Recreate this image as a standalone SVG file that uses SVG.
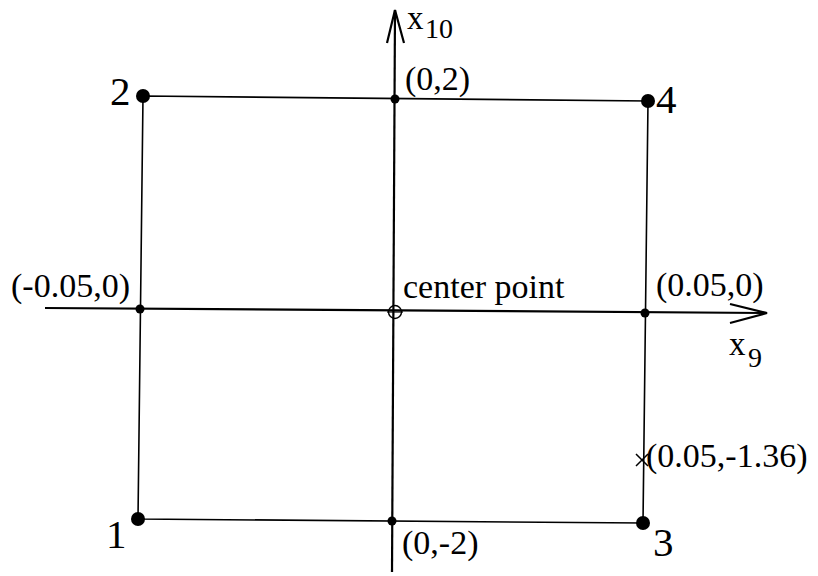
<svg xmlns="http://www.w3.org/2000/svg" width="818" height="576" viewBox="0 0 818 576">
<style>
text{font-family:"Liberation Serif","Times New Roman",serif;fill:#000}
.lbl{font-size:34px}
.num{font-size:41px}
.var{font-size:33px}
.sub{font-size:28px}
.ax{stroke:#000;stroke-width:2.2;fill:none}
.rect{stroke:#000;stroke-width:1.6;fill:none}
.big{fill:#000}
.small{fill:#000}
</style>
<rect width="818" height="576" fill="#fff"/>
<g id="connectors">
<path class="rect" d="M143,96 L648,101 L643,523 L138,519 Z"/>
<line class="ax" x1="395" y1="10" x2="392" y2="572"/>
<polyline class="ax" points="387,43 395,10 404,43"/>
<line class="ax" x1="45" y1="308" x2="767" y2="313"/>
<polyline class="ax" points="730,304 767,313 730,323"/>
</g>
<g id="axis-x10"><text class="var" x="407" y="29">x</text><text class="sub" x="425" y="38">10</text></g>
<g id="axis-x9"><text class="var" x="729" y="355">x</text><text class="sub" x="748" y="367">9</text></g>
<g id="p2"><circle class="big" cx="143" cy="96" r="7"/><text class="num" x="110" y="105">2</text></g>
<g id="p4"><circle class="big" cx="648" cy="101" r="7"/><text class="num" x="656" y="113">4</text></g>
<g id="p1"><circle class="big" cx="138" cy="519" r="7"/><text class="num" x="106" y="548">1</text></g>
<g id="p3"><circle class="big" cx="643" cy="523" r="7"/><text class="num" x="653" y="556">3</text></g>
<g id="top-mid"><circle class="small" cx="395" cy="99" r="4.5"/><text class="lbl" x="405" y="90">(0,2)</text></g>
<g id="bottom-mid"><circle class="small" cx="392" cy="521" r="4.5"/><text class="lbl" x="402" y="554">(0,-2)</text></g>
<g id="left-mid"><circle class="small" cx="140" cy="309" r="4.5"/><text class="lbl" x="11" y="297">(-0.05,0)</text></g>
<g id="right-mid"><circle class="small" cx="645" cy="313" r="4.5"/><text class="lbl" x="656" y="296">(0.05,0)</text></g>
<g id="center"><circle cx="395" cy="312" r="6.5" fill="none" stroke="#000" stroke-width="1.4"/><line x1="387" y1="312" x2="403" y2="312" stroke="#000" stroke-width="1.2"/><text class="lbl" x="403" y="298">center point</text></g>
<g id="cross"><path d="M636,454 L648,466 M648,454 L636,466" stroke="#000" stroke-width="1.5"/><text class="lbl" x="646" y="467">(0.05,-1.36)</text></g>
</svg>
